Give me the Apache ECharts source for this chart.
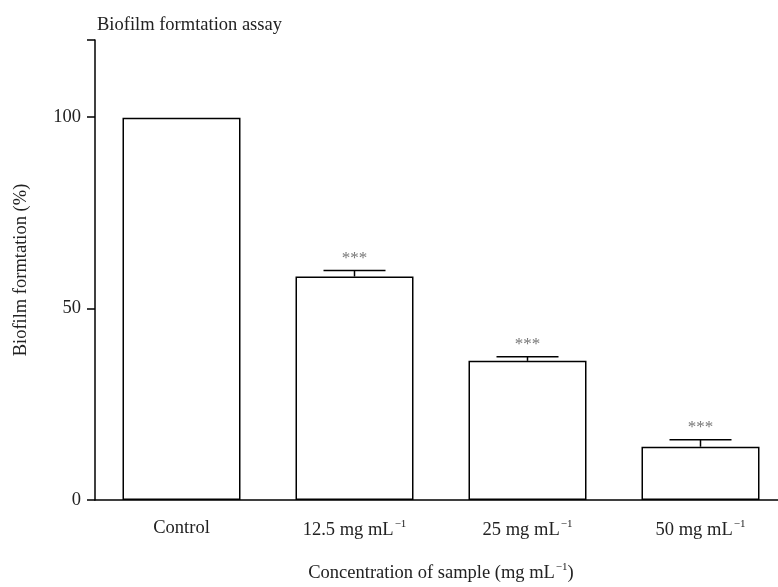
<!DOCTYPE html>
<html><head><meta charset="utf-8">
<script src="https://cdn.jsdelivr.net/npm/echarts@6/dist/echarts.min.js"></script>
<style>html,body{margin:0;padding:0;background:#fff}#c{width:778px;height:587px}</style>
</head><body><div id="c"></div>
<script>
const categories = ['Control', '12.5 mg mL', '25 mg mL', '50 mg mL'];
const superscripts = ['', '\u22121', '\u22121', '\u22121'];
const values = [99.7, 58.3, 36.3, 13.9];
const errors = [0, 1.6, 1.1, 1.8];
const stars = ['', '***', '***', '***'];
const yTicks = [0, 50, 100];

const FONT = "'Liberation Serif', 'Times New Roman', serif";
const FS = 18.5;
const rich = {
  a: { fontFamily: FONT, fontSize: FS, color: '#222' },
  s: { fontFamily: FONT, fontSize: 11, color: '#222', verticalAlign: 'top', padding: [0, 0, 12, 1] }
};
const chart = echarts.init(document.getElementById('c'));
chart.setOption({
  animation: false,
  title: {
    text: 'Biofilm formtation assay', left: 92, top: 11,
    textStyle: { fontFamily: FONT, fontSize: FS, fontWeight: 'normal', color: '#222' }
  },
  grid: { left: 95, right: -9, top: 40, bottom: 87, outerBoundsMode: 'none', containLabel: false },
  xAxis: {
    type: 'category', data: categories,
    axisLine: { lineStyle: { color: '#000', width: 1.5 } },
    axisTick: { length: 7, lineStyle: { color: '#000', width: 1.5 } },
    axisLabel: {
      margin: 19,
      formatter: (v, i) => superscripts[i] ? '{a|' + v + '}{s|' + superscripts[i] + '}' : '{a|' + v + '}',
      rich: rich
    },
    name: '{a|Concentration of sample (mg mL}{s|\u22121}{a|)}',
    nameLocation: 'middle', nameGap: 62,
    nameTextStyle: { rich: rich }
  },
  yAxis: {
    type: 'value', min: 0, max: 120, interval: 50,
    splitLine: { show: false },
    axisLine: { show: true, lineStyle: { color: '#000', width: 1.5 } },
    axisTick: { show: true, length: 8, lineStyle: { color: '#000', width: 1.5 } },
    axisLabel: {
      margin: 14, fontFamily: FONT, fontSize: FS, color: '#222',
      formatter: v => yTicks.indexOf(v) >= 0 ? String(v) : ''
    },
    name: 'Biofilm formtation (%)', nameLocation: 'middle', nameGap: 64,
    nameTextStyle: { fontFamily: FONT, fontSize: FS, color: '#222' }
  },
  series: [
    {
      type: 'bar', data: values, barWidth: 118,
      itemStyle: { color: '#fff', borderColor: '#000', borderWidth: 1.5 }
    },
    {
      type: 'custom',
      data: values.map((v, i) => [i, v, errors[i]]),
      renderItem: (params, api) => {
        const i = api.value(0), v = api.value(1), e = api.value(2);
        const base = api.coord([i, v]);
        const top = api.coord([i, v + e]);
        const children = [];
        if (e > 0) {
          children.push({ type: 'line', shape: { x1: base[0], y1: base[1], x2: top[0], y2: top[1] }, style: { stroke: '#000', lineWidth: 1.5 } });
          children.push({ type: 'line', shape: { x1: top[0] - 31, y1: top[1], x2: top[0] + 31, y2: top[1] }, style: { stroke: '#000', lineWidth: 1.5 } });
        }
        if (stars[i]) {
          children.push({ type: 'text', x: top[0], y: top[1] - 12, style: { text: stars[i], fill: '#777', font: '17px ' + FONT, textAlign: 'center', textVerticalAlign: 'middle' } });
        }
        return { type: 'group', children };
      },
      z: 5
    }
  ]
});
</script></body></html>
